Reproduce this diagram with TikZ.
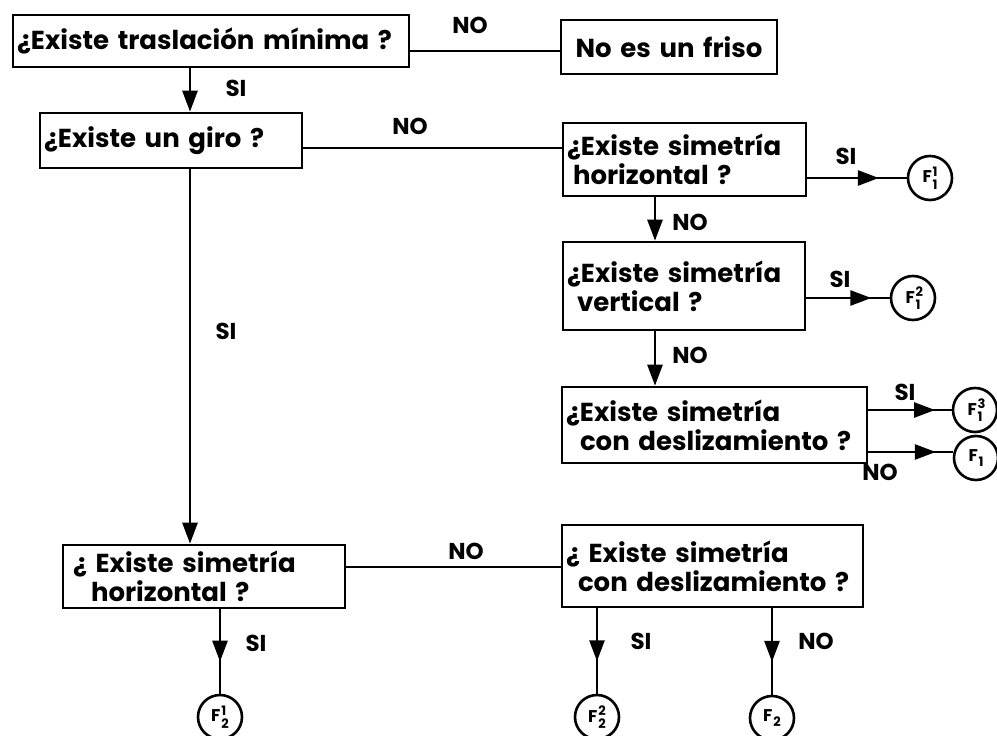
\documentclass[tikz,border=0pt]{standalone}
\usepackage{fontspec}
\setmainfont{Poppins}
\usetikzlibrary{arrows.meta,decorations.markings}
\newcommand{\Fss}[2]{F\kern0.8pt\rlap{\raisebox{0.4em}{\fontsize{13}{13}\selectfont #1}}\raisebox{-0.38em}{\fontsize{13}{13}\selectfont #2}}
\newcommand{\Fsb}[1]{F\kern0.8pt\raisebox{-0.3em}{\fontsize{13}{13}\selectfont #1}}
\begin{document}
\begin{tikzpicture}[x=1pt,y=-1pt,
  txt/.style={font=\fontsize{26}{29}\selectfont\bfseries},
  box/.style={txt,draw,line width=2.6pt,inner sep=4pt,align=left,anchor=center},
  lbl/.style={font=\fontsize{23}{25}\selectfont\bfseries,inner sep=0pt},
  circ/.style={draw,circle,line width=2.6pt,minimum size=44pt,inner sep=0pt,font=\fontsize{17}{17}\selectfont\bfseries},
  conn/.style={line width=2.6pt},
  arr/.style={conn,-{Triangle[length=21pt,width=15pt]}},
  midarr/.style={conn,postaction={decorate},decoration={markings,mark=at position #1 with {\arrow{Triangle[length=21pt,width=15pt]}}}}]
\useasboundingbox (0,0) rectangle (997,736);
% boxes
\node[box,minimum width=396pt,minimum height=52pt,text width=388pt] (A) at (211,41) {¿Existe traslación mínima ?};
\node[box,minimum width=216pt,minimum height=54pt,text width=208pt,align=center] (B) at (669,47) {No es un friso};
\node[box,minimum width=262pt,minimum height=55pt,text width=254pt] (C) at (171,140.5) {¿Existe un giro ?};
\node[box,minimum width=243pt,minimum height=73pt,text width=235pt] (D) at (684.5,159.5) {¿Existe simetría\\\hspace{6pt}horizontal ?};
\node[box,minimum width=242pt,minimum height=88pt,text width=234pt] (E) at (684,286) {¿Existe simetría\\\hspace{10pt}vertical ?};
\node[box,minimum width=305pt,minimum height=76pt,text width=297pt] (G) at (714.5,425) {¿Existe simetría\\\hspace{14pt}con deslizamiento ?};
\node[box,minimum width=282pt,minimum height=63pt,text width=274pt] (H) at (204,576.5) {\hspace{6pt}¿ Existe simetría\\\hspace{24pt}horizontal ?};
\node[box,minimum width=301pt,minimum height=82pt,text width=293pt] (I) at (712.5,566) {¿ Existe simetría\\\hspace{12pt}con deslizamiento ?};
% circles
\node[circ] (F11) at (930,178) {\Fss{1}{1}};
\node[circ] (F12) at (913,298) {\Fss{2}{1}};
\node[circ] (F13) at (975,410) {\Fss{3}{1}};
\node[circ] (F1) at (976,458) {\Fsb{1}};
\node[circ] (F21) at (220,717) {\Fss{1}{2}};
\node[circ] (F22) at (597,717) {\Fss{2}{2}};
\node[circ] (F2) at (772,718) {\Fsb{2}};
% helper coordinates
\coordinate (yAB) at (0,51);
\coordinate (xAC) at (190,0);
\coordinate (yCD) at (0,148);
\coordinate (xDE) at (655,0);
\coordinate (yHI) at (0,567);
\coordinate (yG2) at (0,452);
% connectors
\draw[conn] (A.east |- yAB) -- (B.west |- yAB);
\draw[arr] (A.south -| xAC) -- (C.north -| xAC);
\draw[conn] (C.east |- yCD) -- (D.west |- yCD);
\draw[arr] (C.south -| xAC) -- (H.north -| xAC);
\draw[midarr=0.72] (D.east |- F11) -- (F11.west);
\draw[arr] (D.south -| xDE) -- (E.north -| xDE);
\draw[midarr=0.78] (E.east |- F12) -- (F12.west);
\draw[arr] (E.south -| xDE) -- (G.north -| xDE);
\draw[midarr=0.8] (G.east |- F13) -- (F13.west);
\draw[midarr=0.8] (G.east |- yG2) -- (F1.west |- yG2);
\draw[conn] (H.east |- yHI) -- (I.west |- yHI);
\draw[midarr=0.62] (H.south -| F21) -- (F21.north);
\draw[midarr=0.62] (I.south -| F22) -- (F22.north);
\draw[midarr=0.62] (I.south -| F2) -- (F2.north);
% labels
\node[lbl] (l1) at (470,25) {NO};
\node[lbl] (l2) at (236,88) {SI};
\node[lbl] (l3) at (410,126) {NO};
\node[lbl] (l4) at (846,156) {SI};
\node[lbl] (l5) at (690,222) {NO};
\node[lbl] (l6) at (840,279) {SI};
\node[lbl] (l7) at (690,355) {NO};
\node[lbl] (l8) at (905,392) {SI};
\node[lbl] (l9) at (880,472) {NO};
\node[lbl] (l10) at (226,331) {SI};
\node[lbl] (l11) at (466,551) {NO};
\node[lbl] (l12) at (256,643) {SI};
\node[lbl] (l13) at (641,641) {SI};
\node[lbl] (l14) at (816,641) {NO};
\end{tikzpicture}
\end{document}
